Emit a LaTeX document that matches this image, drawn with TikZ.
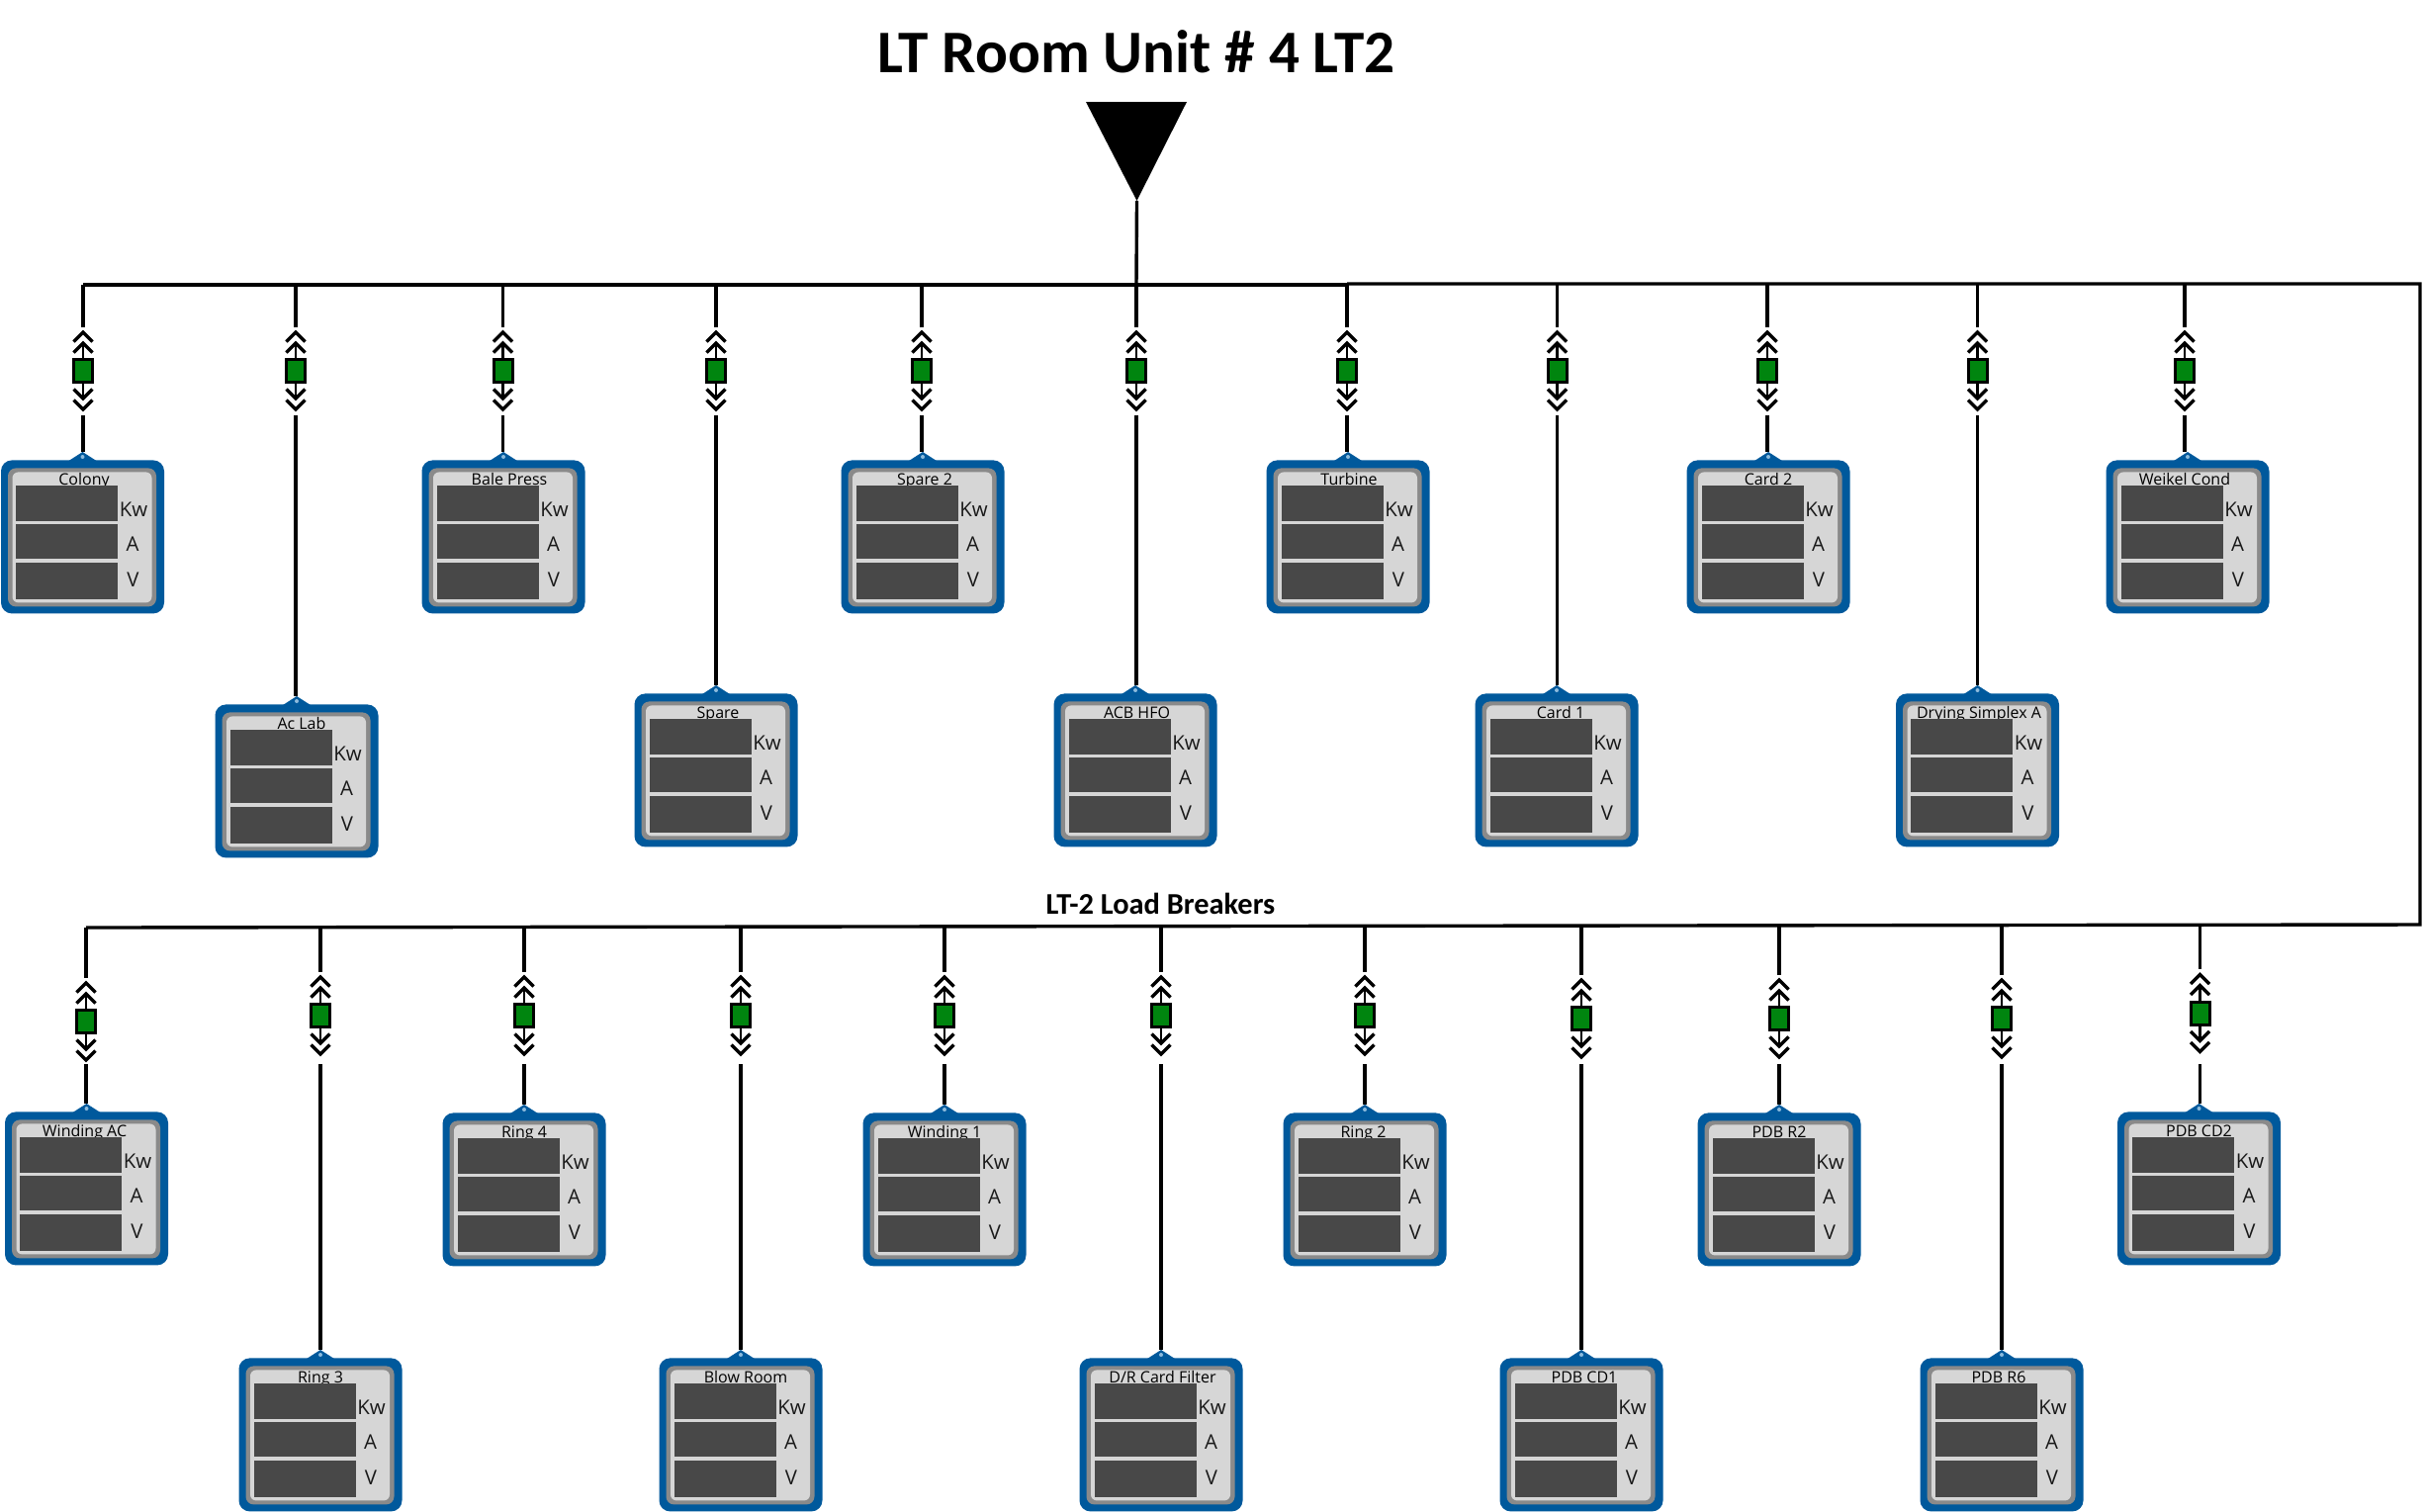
\documentclass[tikz,border=0pt]{standalone}
\usepackage{fontspec}
\setmainfont{Open Sans}
\newfontfamily\headfont[BoldFont={Carlito Bold}]{Carlito}
\usetikzlibrary{calc}
\definecolor{cardblue}{HTML}{00599C}
\definecolor{cardring}{HTML}{8A8A8A}
\definecolor{cardface}{HTML}{D6D6D6}
\definecolor{cardlcd}{HTML}{484848}
\definecolor{brkgreen}{HTML}{00850F}
\definecolor{tabdot}{HTML}{8DBBDD}
\tikzset{
  wire/.style={draw=black,line width=1.7pt},
  shaft/.style={draw=black,line width=1.3pt},
  chevron/.style={draw=black,line width=1.7pt,line join=miter},
  breaker/.style={draw=black,fill=brkgreen,line width=1.5pt,minimum width=9.5pt,minimum height=11.5pt,inner sep=0pt},
  cardbody/.style={fill=cardblue,rounded corners=5.5pt,minimum width=82.5pt,minimum height=77.5pt,inner sep=0pt,anchor=north},
  cardinner/.style={fill=cardring,rounded corners=4pt,minimum width=75pt,minimum height=70pt,inner sep=0pt,anchor=north},
  cardpanel/.style={fill=cardface,rounded corners=3pt,minimum width=70.5pt,minimum height=66pt,inner sep=0pt,anchor=north},
  lcd/.style={fill=cardlcd,minimum width=51.5pt,inner sep=0pt,anchor=north west},
  unitlabel/.style={font=\fontsize{10.2}{10.2}\selectfont,text=black!90,inner sep=0pt,anchor=base},
  cardtitle/.style={font=\fontsize{8}{8}\selectfont,text=black,inner sep=0pt,anchor=base},
}
% [title shift], id, line x, bus y, breaker y, card centre x, card top, title
\newcommand{\feeder}[8][0]{%
  \coordinate (#2-bus) at (#3,#4);
  \node[breaker] (#2-brk) at (#3,#5) {};
  \coordinate (#2-upend) at (#3,{#5-44.5});
  \coordinate (#2-upapex) at (#3,{#5-28});
  \coordinate (#2-lowapex) at (#3,{#5+28});
  \coordinate (#2-lowend) at (#3,\lowY);
  \coordinate (#2-apex) at (#3,{#7-8});
  \draw[wire] (#2-bus) -- (#2-upend);
  \draw[shaft] (#2-brk.north) -- (#2-upapex);
  \draw[shaft] (#2-brk.south) -- (#2-lowapex);
  \draw[chevron] ({#3-9.5},{#5-29.5}) -- (#3,{#5-39}) -- ({#3+9.5},{#5-29.5});
  \draw[chevron] ({#3-9.5},{#5-18.5}) -- (#3,{#5-28}) -- ({#3+9.5},{#5-18.5});
  \draw[chevron] ({#3-9.5},{#5+29.5}) -- (#3,{#5+39}) -- ({#3+9.5},{#5+29.5});
  \draw[chevron] ({#3-9.5},{#5+18.5}) -- (#3,{#5+28}) -- ({#3+9.5},{#5+18.5});
  \fill[cardblue] ({#6-14},{#7+1}) -- (#6,{#7-8}) -- ({#6+14},{#7+1}) -- cycle;
  \node[cardbody] (#2) at (#6,#7) {};
  \fill[tabdot] (#6,{#7-3}) circle (1pt);
  \node[cardinner] (#2-ring) at ({#6-0.5},{#7+8}) {};
  \node[cardpanel] (#2-panel) at ({#6-0.5},{#7+12}) {};
  \node[cardtitle] (#2-title) at ({#6+#1},{#7+25}) {#8};
  \node[lcd,minimum height=18pt] (#2-kwd) at ({#6-67.5},{#7+26}) {};
  \node[lcd,minimum height=17.5pt] (#2-ad) at ({#6-67.5},{#7+65}) {};
  \node[lcd,minimum height=18.5pt] (#2-vd) at ({#6-67.5},{#7+104}) {};
  \node[unitlabel] (#2-kw) at ({#6+51.5},{#7+57}) {Kw};
  \node[unitlabel] (#2-a) at ({#6+50.5},{#7+92}) {A};
  \node[unitlabel] (#2-v) at ({#6+51},{#7+128}) {V};
  \draw[wire] (#2-lowend) -- (#2-apex);
}
\begin{document}
\begin{tikzpicture}[x=0.5pt,y=-0.5pt]
\useasboundingbox (0,0) rectangle (2451,1528);
\node[font=\headfont\bfseries\fontsize{30.6}{30.6}\selectfont,inner sep=0pt,anchor=base] (maintitle) at (1149,73) {LT Room Unit \# 4 LT2};
\node[font=\headfont\bfseries\fontsize{15.2}{15.2}\selectfont,inner sep=0pt,anchor=base] (loadtitle) at (1173.5,924) {LT-2 Load Breakers};
\fill[black] (1098,103) -- (1200,103) -- (1149.5,203) -- cycle;
\coordinate (source) at (1149.5,203);

\def\lowY{420}
\feeder[1.5]{u1}{84}{288}{375}{83.5}{465}{Colony}
\feeder[5]{u2}{299}{288}{375}{300}{712}{Ac Lab}
\feeder[6]{u3}{508.5}{288}{375}{509}{465}{Bale Press}
\feeder[2]{u4}{724}{288}{375}{724}{701}{Spare}
\feeder[2]{u5}{932}{288}{375}{933}{465}{Spare 2}
\feeder[1.5]{u6}{1149}{288}{375}{1148}{701}{ACB HFO}
\feeder[1]{u7}{1362}{288}{375}{1363}{465}{Turbine}
\feeder[4]{u8}{1574.5}{288}{375}{1574}{701}{Card 1}
\feeder{u9}{1787}{288}{375}{1788}{465}{Card 2}
\feeder[1.5]{u10}{1999.5}{288}{375}{1999.5}{701}{Drying Simplex A}
\feeder[-3]{u11}{2209}{288}{375}{2212}{465}{Weikel Cond}

\def\lowY{1076}
\feeder[-2]{l1}{87}{938}{1033}{87.5}{1124}{Winding AC}
\feeder{l2}{324}{938}{1027}{324}{1373}{Ring 3}
\feeder{l3}{530}{938}{1027}{530}{1125}{Ring 4}
\feeder[5]{l4}{749}{938}{1027}{749}{1373}{Blow Room}
\feeder{l5}{955}{938}{1027}{955}{1125}{Winding 1}
\feeder[1.5]{l6}{1174}{938}{1027}{1174}{1373}{D/R Card Filter}
\feeder[-1.5]{l7}{1380}{938}{1027}{1380}{1125}{Ring 2}
\feeder[3]{l8}{1599}{937}{1030}{1599}{1373}{PDB CD1}
\feeder{l9}{1799}{937}{1030}{1799}{1125}{PDB R2}
\feeder[-3]{l10}{2024}{936}{1030}{2024}{1373}{PDB R6}
\feeder{l11}{2224.5}{936}{1024.5}{2223.5}{1124}{PDB CD2}

\coordinate (jog) at (1362,287);
\coordinate (corner1) at (2447,287);
\coordinate (corner2) at (2447,935);
\draw[wire] (source) -- (u6-bus);
\draw[wire] (u1-bus) -- (u7-bus);
\draw[wire,line join=miter] (jog) -- (corner1) -- (corner2) -- (l1-bus);
\end{tikzpicture}
\end{document}
